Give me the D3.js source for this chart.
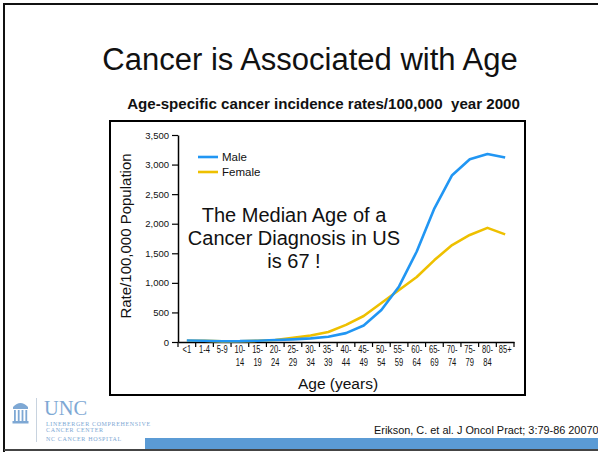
<!DOCTYPE html>
<html><head><meta charset="utf-8">
<script src="https://cdn.jsdelivr.net/npm/d3@7"></script>
<style>
html,body{margin:0;padding:0;background:#fff;}
svg{display:block;font-family:"Liberation Sans",Arial,sans-serif;}
text{white-space:pre;}
</style></head>
<body>
<svg id="c" width="598" height="452"></svg>
<script>
const ageGroups = ["<1","1-4","5-9","10-14","15-19","20-24","25-29","30-34","35-39","40-44","45-49","50-54","55-59","60-64","65-69","70-74","75-79","80-84","85+"];
const maleRates = [25,22,13,14,22,33,45,62,90,150,280,540,940,1530,2260,2820,3090,3180,3120];
const femaleRates = [22,20,11,13,20,35,70,110,170,290,440,660,880,1100,1385,1640,1810,1930,1820];
const yTicks = [0,500,1000,1500,2000,2500,3000,3500];
const seriesNames = ["Male","Female"];
const seriesColors = ["#2196f3","#eec000"];

const svg = d3.select("#c");

// slide frame
svg.append("path").attr("d","M4,452 L4,4 L598,4").attr("fill","none").attr("stroke","#111").attr("stroke-width",2);
svg.append("line").attr("x1",4).attr("x2",598).attr("y1",450).attr("y2",450).attr("stroke","#444").attr("stroke-width",2);

// title
svg.append("text").attr("x",310).attr("y",70).attr("text-anchor","middle").attr("font-size",31).attr("fill","#111").text("Cancer is Associated with Age");
svg.append("text").attr("x",323.5).attr("y",109).attr("text-anchor","middle").attr("font-size",15.1).attr("font-weight","bold").attr("fill","#111").text("Age-specific cancer incidence rates/100,000  year 2000");

// chart box
svg.append("rect").attr("x",110).attr("y",121).attr("width",415).attr("height",274).attr("fill","#fff").attr("stroke","#000").attr("stroke-width",2);

const x = d3.scaleBand().domain(ageGroups).range([178,514]).padding(0);
const y = d3.scaleLinear().domain([0,3500]).range([342,135]);

// y axis
const yAx = svg.append("g").attr("transform","translate(178,0)")
  .call(d3.axisLeft(y).tickValues(yTicks).tickFormat(d3.format(",")).tickSize(6).tickSizeOuter(0));
yAx.select(".domain").attr("stroke","#000").attr("stroke-width",1.5);
yAx.selectAll(".tick line").attr("stroke","#000").attr("stroke-width",1.2);
yAx.selectAll("text").attr("font-size",9.5).attr("fill","#111").attr("x",-9).attr("font-family","'Liberation Sans',Arial,sans-serif");

// x axis
const xAx = svg.append("g").attr("transform","translate(0,342)")
  .call(d3.axisBottom(x).tickSize(0).tickSizeOuter(0).tickPadding(0));
xAx.select(".domain").attr("stroke","#000").attr("stroke-width",1.5);
xAx.selectAll(".tick text").each(function(d){
  const t = d3.select(this).text("").attr("font-size",10.5).attr("fill","#111")
    .attr("font-family","'Liberation Sans',Arial,sans-serif").attr("y",0)
    .attr("transform","scale(0.72,1)");
  const parts = d.split("-");
  if (parts.length===2 && +parts[0]>=10){
    t.append("tspan").attr("x",0).attr("dy","11.5").text(parts[0]+"-");
    t.append("tspan").attr("x",0).attr("dy","12.5").text(parts[1]);
  } else {
    t.append("tspan").attr("x",0).attr("dy","11.5").text(d);
  }
});
// band boundary ticks
const bounds = ageGroups.map(a=>x(a)).concat([x(ageGroups[ageGroups.length-1])+x.bandwidth()]);
svg.append("g").selectAll("line").data(bounds).join("line")
  .attr("x1",d=>d).attr("x2",d=>d).attr("y1",342).attr("y2",347).attr("stroke","#000").attr("stroke-width",1.2);

// axis titles
svg.append("text").attr("transform","translate(131,236) rotate(-90)").attr("text-anchor","middle").attr("font-size",15).attr("fill","#111").text("Rate/100,000 Population");
svg.append("text").attr("x",338).attr("y",389).attr("text-anchor","middle").attr("font-size",15.5).attr("fill","#111").text("Age (years)");

// lines
const line = d3.line().x((d,i)=>x(ageGroups[i])+x.bandwidth()/2).y(d=>y(d));
[femaleRates, maleRates].forEach((arr,k)=>{
  svg.append("path").datum(arr).attr("d",line).attr("fill","none")
    .attr("stroke", k===0?seriesColors[1]:seriesColors[0]).attr("stroke-width",2.6).attr("stroke-linejoin","round");
});

// legend
seriesNames.forEach((n,i)=>{
  const ly = 157 + i*15;
  svg.append("line").attr("x1",198).attr("x2",218).attr("y1",ly).attr("y2",ly).attr("stroke",seriesColors[i]).attr("stroke-width",2.6);
  svg.append("text").attr("x",222).attr("y",ly+4).attr("font-size",11.5).attr("fill","#111").text(n);
});

// annotation
const ann = ["The Median Age of a","Cancer Diagnosis in US","is 67 !"];
ann.forEach((s,i)=>{
  svg.append("text").attr("x",294).attr("y",222+i*23).attr("text-anchor","middle").attr("font-size",20).attr("fill","#111").text(s);
});

// logo
const logoBlue = "#7ea8d4";
const lg = svg.append("g");
lg.append("path").attr("d","M13,407 Q20.5,399 28,407 Z").attr("fill",logoBlue);
lg.append("rect").attr("x",13).attr("y",407).attr("width",15).attr("height",2).attr("fill",logoBlue);
[14,17.8,21.6,25.4].forEach(cx=>lg.append("rect").attr("x",cx).attr("y",410).attr("width",1.8).attr("height",11).attr("fill",logoBlue));
lg.append("rect").attr("x",12.5).attr("y",421).attr("width",16).attr("height",2.5).attr("fill",logoBlue);
lg.append("line").attr("x1",36.5).attr("x2",36.5).attr("y1",398).attr("y2",442).attr("stroke","#c8d3df").attr("stroke-width",1);
lg.append("text").attr("x",44).attr("y",415).attr("font-family","'Liberation Serif','Times New Roman',serif").attr("font-size",20.5).attr("fill",logoBlue).text("UNC");
["LINEBERGER COMPREHENSIVE","CANCER CENTER","NC CANCER HOSPITAL"].forEach((s,i)=>{
  lg.append("text").attr("x",46).attr("y",[425.5,432,440.5][i]).attr("font-family","'Liberation Serif','Times New Roman',serif").attr("font-size",6).attr("fill",logoBlue).attr("letter-spacing",0.65).text(s);
});

// citation
svg.append("text").attr("x",374).attr("y",434).attr("font-size",10.9).attr("fill","#111").text("Erikson, C. et al. J Oncol Pract; 3:79-86 20070");
// bottom bar
svg.append("rect").attr("x",145).attr("y",438).attr("width",453).attr("height",11).attr("fill","#5b9bd5");
</script>
</body></html>
